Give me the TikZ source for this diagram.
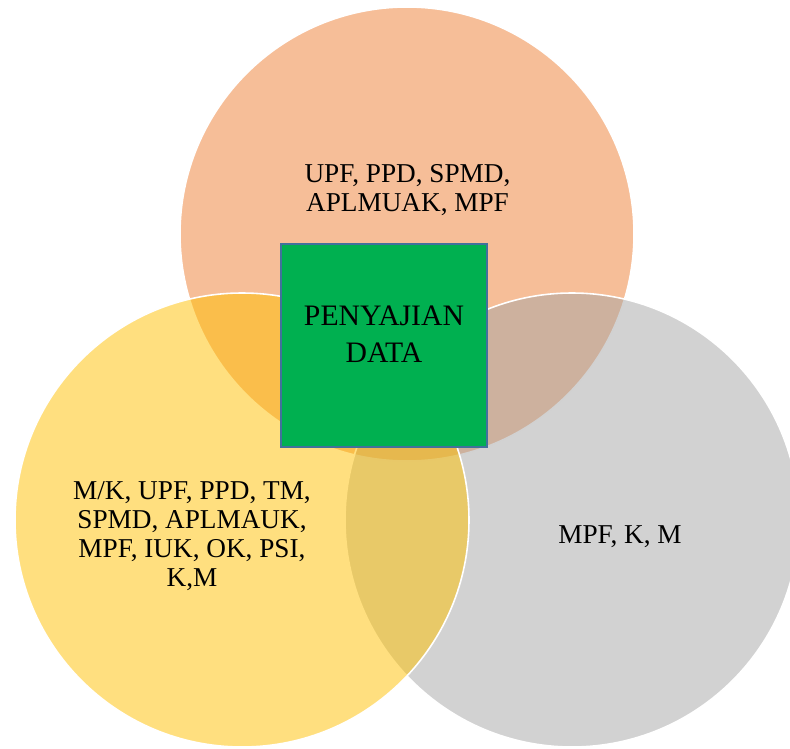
\documentclass[tikz,border=0pt]{standalone}
\usepackage{fontspec}
\setmainfont{Liberation Serif}
\usepackage{xcolor}
\usepackage{tikz}

\definecolor{vennorange}{HTML}{ED7D31}
\definecolor{venngrey}{HTML}{A5A5A5}
\definecolor{vennyellow}{HTML}{FFC000}
\definecolor{boxgreen}{HTML}{00B050}
\definecolor{boxedge}{HTML}{41719C}

\tikzset{
	venn/.style = {fill opacity = 0.5, draw = white, line width = 0.9pt},
	setlabel/.style = {align = center, inner sep = 0pt, font = \fontsize{15.5}{16.4}\selectfont},
	centrebox/.style = {draw = boxedge, line width = 1.1pt, fill = boxgreen, inner sep = 0pt, minimum width = 4.12cm, minimum height = 4.06cm},
	boxlabel/.style = {align = center, inner sep = 0pt, font = \fontsize{16.9}{20.8}\selectfont}
}

\begin{document}
\begin{tikzpicture}[x = 0.02cm, y = -0.02cm]
		\def\R{227}
		
		\useasboundingbox (0,0) rectangle (790,749);
		\clip (0,0) rectangle (790,749);
		
		\coordinate (ctop) at (407,234);
		\coordinate (cleft) at (242,520);
		\coordinate (cright) at (572,520);
		
		\draw[venn, fill = vennorange] (ctop) circle [radius = \R];
		\draw[venn, fill = venngrey] (cright) circle [radius = \R];
		\draw[venn, fill = vennyellow] (cleft) circle [radius = \R];
		
		\node[setlabel] (toplabel) at (407.5,190) {UPF, PPD, SPMD,\\APLMUAK, MPF};
		\node[setlabel] (leftlabel) at (192,536) {M/K, UPF, PPD, TM,\\SPMD, APLMAUK,\\MPF, IUK, OK, PSI,\\K,M};
		\node[setlabel] (rightlabel) at (620,537) {MPF, K, M};
		
		\node[centrebox] (box) at (384,345.5) {};
		\node[boxlabel] (boxtext) at (384,334) {PENYAJIAN\\DATA};
	\end{tikzpicture}
\end{document}
